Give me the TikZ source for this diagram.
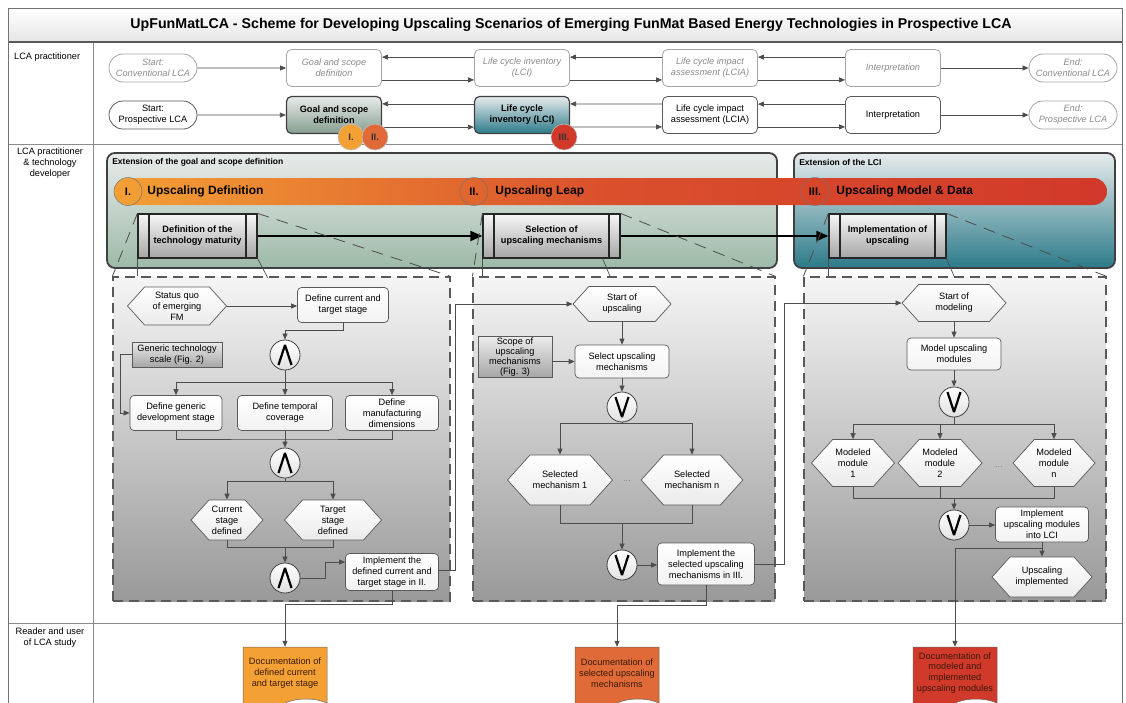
\documentclass[tikz,border=0pt]{standalone}
\usepackage{fontspec}
\setmainfont{Liberation Sans}
\usetikzlibrary{arrows.meta}
\usetikzlibrary{positioning}
\usetikzlibrary{shapes.misc}
\usetikzlibrary{shapes.symbols}

\definecolor{lineGrey}{HTML}{4D4D4D}
\definecolor{borderGrey}{HTML}{5A5A5A}
\definecolor{oldGrey}{HTML}{A5A5A5}
\definecolor{oldText}{HTML}{8C8C8C}
\definecolor{goalTop}{HTML}{E8EBEA}
\definecolor{goalBot}{HTML}{9DBAA8}
\definecolor{lciTop}{HTML}{E8ECED}
\definecolor{lciBot}{HTML}{2C7A89}
\definecolor{upOrange}{HTML}{F3A035}
\definecolor{upRust}{HTML}{E06B38}
\definecolor{upMid}{HTML}{DA4F2C}
\definecolor{upRed}{HTML}{D1392A}
\definecolor{docText}{HTML}{3A1A0C}

\newcommand{\boxfont}{\fontsize{9.2}{10.9}\selectfont}

\tikzset{
	>={Triangle[length=6pt,width=5pt]},
	conn/.style={draw=lineGrey, line width=0.75pt},
	arr/.style={conn, ->},
	bigarr/.style={draw=black, line width=2pt, -{Triangle[length=12pt,width=10pt]}},
	lcabox/.style={
		rectangle,
		rounded corners=5pt,
		draw=borderGrey, line width=0.8pt,
		fill=white,
		minimum width=95pt,
		minimum height=37pt,
		align=center,
		font=\boxfont,
		inner sep=2pt},
	oldbox/.style={lcabox, draw=oldGrey, text=oldText, font=\boxfont\itshape},
	terminal/.style={
		rounded rectangle,
		draw=borderGrey, line width=0.8pt,
		fill=white,
		minimum width=90pt,
		minimum height=28pt,
		align=center,
		font=\boxfont,
		inner sep=1pt},
	oldterminal/.style={terminal, draw=oldGrey, text=oldText, font=\boxfont\itshape},
	badge/.style={circle, minimum size=26pt, inner sep=0pt, draw=white!75!black,
		line width=0.6pt, font=\fontsize{9.5}{11}\selectfont\bfseries, text=black!80},
	extbox/.style={rectangle, rounded corners=8pt, draw=black!75, line width=1.8pt},
	exttitle/.style={anchor=west, inner sep=0pt, font=\fontsize{8.5}{10}\selectfont\bfseries},
	bandlabel/.style={circle, minimum size=28pt, inner sep=0pt, draw=black!55,
		line width=0.5pt, font=\fontsize{11}{13}\selectfont\bfseries},
	bandtext/.style={anchor=west, inner sep=0pt, font=\fontsize{12}{14}\selectfont\bfseries},
	subproc/.style={
		rectangle,
		draw=black!85, line width=1.2pt,
		top color=black!3, bottom color=black!35,
		minimum height=44pt,
		align=center,
		font=\boxfont\bfseries,
		inner sep=2pt,
		path picture={\draw[black!85, line width=1.2pt]
			([xshift=11pt]path picture bounding box.north west) -- ([xshift=11pt]path picture bounding box.south west)
			([xshift=-11pt]path picture bounding box.north east) -- ([xshift=-11pt]path picture bounding box.south east);}},
	expframe/.style={rectangle, draw=black!65, line width=1.2pt, dash pattern=on 10pt off 6pt,
		top color=black!4, bottom color=black!40},
	zoomline/.style={draw=black!70, line width=0.8pt, dash pattern=on 12pt off 8pt},
	zoomstub/.style={draw=black!70, line width=0.7pt},
	process/.style={
		rectangle,
		rounded corners=4pt,
		draw=borderGrey, line width=0.7pt,
		top color=white, bottom color=black!5,
		align=center,
		font=\boxfont,
		inner sep=1pt},
	hexa/.style={
		signal, signal to=west and east, signal pointer angle=96,
		draw=borderGrey, line width=0.7pt,
		top color=white, bottom color=black!8,
		align=center,
		font=\boxfont,
		inner sep=1pt},
	refbox/.style={rectangle, draw=borderGrey, line width=0.7pt,
		top color=black!8, bottom color=black!35, align=center, font=\boxfont, inner sep=1pt},
	gate/.style={circle, minimum size=30pt, inner sep=0pt, draw=black!75, line width=0.8pt,
		top color=white, bottom color=black!12},
	andgate/.style={gate, path picture={\draw[black, line width=2.2pt, line join=bevel]
			([shift={(-6.5pt,-10pt)}]path picture bounding box.center) -- ([shift={(0pt,10pt)}]path picture bounding box.center)
			-- ([shift={(6.5pt,-10pt)}]path picture bounding box.center);}},
	orgate/.style={gate, path picture={\draw[black, line width=2.2pt, line join=bevel]
			([shift={(-6.5pt,10pt)}]path picture bounding box.center) -- ([shift={(0pt,-10pt)}]path picture bounding box.center)
			-- ([shift={(6.5pt,10pt)}]path picture bounding box.center);}},
	dotsnode/.style={font=\boxfont, text=black!50},
	docnode/.style={
		tape, tape bend top=none, tape bend bottom=in and out, tape bend height=8pt,
		draw=black!60, line width=0.5pt,
		minimum width=84pt,
		minimum height=60pt,
		align=center,
		font=\boxfont,
		text=docText},
	lanelabel/.style={align=center, font=\boxfont, inner sep=0pt},
}

\begin{document}
\begin{tikzpicture}[x=1pt, y=-1pt, font=\boxfont]
	\useasboundingbox (0,0) rectangle (1126,702);
	\clip (0,0) rectangle (1126,702);
	\fill[white] (0,0) rectangle (1126,702);
	
	% frame, title and lanes
	\path[top color=white, bottom color=black!10] (8,8) rectangle (1122,42);
	\node[font=\fontsize{14.2}{16}\selectfont\bfseries] (title) at (571,25)
		{UpFunMatLCA - Scheme for Developing Upscaling Scenarios of Emerging FunMat Based Energy Technologies in Prospective LCA};
	\draw[black!45, line width=0.8pt] (8,144) -- (1122,144);
	\draw[black!45, line width=0.8pt] (8,623) -- (1122,623);
	\draw[black!45, line width=0.8pt] (93,42) -- (93,712);
	\draw[black!65, line width=1.5pt] (8,42) -- (1122,42);
	\draw[black!55, line width=1pt] (8,8) rectangle (1122,712);
	
	\node[lanelabel, anchor=west] (laneOne) at (14,57) {LCA practitioner};
	\node[lanelabel, anchor=north] (laneTwo) at (50,148) {LCA practitioner\\\& technology\\developer};
	\node[lanelabel, anchor=north] (laneThree) at (50,628) {Reader and user\\of LCA study};
	
	% conventional and prospective LCA
	\node[oldterminal] (startConv) at (153,68) {Start:\\Conventional LCA};
	\node[oldbox] (goalConv) at (334,68) {Goal and scope\\definition};
	\node[oldbox] (lciConv) at (522,68) {Life cycle inventory\\(LCI)};
	\node[oldbox] (lciaConv) at (710,68) {Life cycle impact\\assessment (LCIA)};
	\node[oldbox] (interConv) at (893,68) {Interpretation};
	\node[oldterminal] (endConv) at (1073,68) {End:\\Conventional LCA};
	
	\node[terminal] (startProsp) at (153,115) {Start:\\Prospective LCA};
	\node[lcabox, top color=goalTop, bottom color=goalBot!85!black, draw=black!75, line width=1.2pt,
		font=\boxfont\bfseries] (goalProsp) at (334,115) {Goal and scope\\definition};
	\node[lcabox, top color=lciTop, bottom color=lciBot, draw=black!75, line width=1.2pt,
		font=\boxfont\bfseries] (lciProsp) at (522,115) {Life cycle\\inventory (LCI)};
	\node[lcabox] (lciaProsp) at (710,115) {Life cycle impact\\assessment (LCIA)};
	\node[lcabox] (interProsp) at (893,115) {Interpretation};
	\node[oldterminal] (endProsp) at (1073,115) {End:\\Prospective LCA};
	
	\draw[arr] (startConv) -- (goalConv);
	\draw[arr] ([yshift=-8pt]lciConv.north west) -- ([yshift=-8pt]goalConv.north east);
	\draw[arr] ([yshift=7pt]goalConv.south east) -- ([yshift=7pt]lciConv.south west);
	\draw[arr] ([yshift=-8pt]lciaConv.north west) -- ([yshift=-8pt]lciConv.north east);
	\draw[arr] ([yshift=7pt]lciConv.south east) -- ([yshift=7pt]lciaConv.south west);
	\draw[arr] ([yshift=-8pt]interConv.north west) -- ([yshift=-8pt]lciaConv.north east);
	\draw[arr] ([yshift=7pt]lciaConv.south east) -- ([yshift=7pt]interConv.south west);
	\draw[arr] (interConv) -- (endConv);
	
	\draw[arr] (startProsp) -- (goalProsp);
	\draw[arr] ([yshift=-8pt]lciProsp.north west) -- ([yshift=-8pt]goalProsp.north east);
	\draw[arr] ([yshift=7pt]goalProsp.south east) -- ([yshift=7pt]lciProsp.south west);
	\draw[arr] ([yshift=-8pt]lciaProsp.north west) -- ([yshift=-8pt]lciProsp.north east);
	\draw[arr] ([yshift=7pt]lciProsp.south east) -- ([yshift=7pt]lciaProsp.south west);
	\draw[arr] ([yshift=-8pt]interProsp.north west) -- ([yshift=-8pt]lciaProsp.north east);
	\draw[arr] ([yshift=7pt]lciaProsp.south east) -- ([yshift=7pt]interProsp.south west);
	\draw[arr] (interProsp) -- (endProsp);
	
	\node[badge, fill=upOrange] (badgeOne) at (351,137) {I.};
	\node[badge, fill=upRust] (badgeTwo) at (375,137) {II.};
	\node[badge, fill=upRed] (badgeThree) at (564,137) {III.};
	
	% extensions
	\node[extbox, top color=goalTop, bottom color=goalBot, minimum width=670pt, minimum height=115pt] (extGoal) at (442,210.5) {};
	\node[extbox, top color=lciTop, bottom color=lciBot, minimum width=321pt, minimum height=115pt] (extLCI) at (954.5,210.5) {};
	\node[exttitle] (extGoalTitle) at ([xshift=6pt,yshift=-10pt]extGoal.north west) {Extension of the goal and scope definition};
	\node[exttitle] (extLCITitle) at ([xshift=6pt,yshift=-10pt]extLCI.north west) {Extension of the LCI};
	
	\node[expframe, minimum width=337pt, minimum height=324pt] (frameA) at (281.5,439) {};
	\node[expframe, minimum width=302pt, minimum height=324pt] (frameB) at (624,439) {};
	\node[expframe, minimum width=302pt, minimum height=324pt] (frameC) at (955,439) {};
	
	\node[rectangle, rounded corners=13.5pt, minimum width=993pt, minimum height=27pt, inner sep=0pt,
		left color=upOrange, right color=upRed, middle color=upMid] (band) at (610.5,191.5) {};
	\node[bandlabel] (bandOne) at (128,191.5) {I.};
	\node[bandtext, right=5pt of bandOne] (bandOneText) {Upscaling Definition};
	\node[bandlabel] (bandTwo) at (474,191.5) {II.};
	\node[bandtext, right=7pt of bandTwo] (bandTwoText) {Upscaling Leap};
	\node[bandlabel] (bandThree) at (815,191.5) {III.};
	\node[bandtext, right=7pt of bandThree] (bandThreeText) {Upscaling Model \& Data};
	
	\node[subproc, minimum width=119pt] (defMat) at (197.5,236) {Definition of the\\technology maturity};
	\node[subproc, minimum width=137pt] (selUp) at (551.5,236) {Selection of\\upscaling mechanisms};
	\node[subproc, minimum width=117pt] (implUp) at (887.5,236) {Implementation of\\upscaling};
	\draw[bigarr] (defMat) -- (selUp);
	\draw[bigarr] (selUp) -- (implUp);
	
	\draw[zoomline] (defMat.north west) -- (frameA.north west);
	\draw[zoomline] (defMat.north east) -- (frameA.north east);
	\draw[zoomstub] (defMat.south west) -- (defMat.south west |- frameA.north);
	\draw[zoomstub] (defMat.south east) -- ++(10,19);
	\draw[zoomline] (selUp.north west) -- (frameB.north west);
	\draw[zoomline] (selUp.north east) -- (frameB.north east);
	\draw[zoomstub] (selUp.south west) -- (selUp.south west |- frameB.north);
	\draw[zoomstub] ([xshift=-18pt]selUp.south east) -- ++(8,19);
	\draw[zoomline] (implUp.north west) -- (frameC.north west);
	\draw[zoomline] (implUp.north east) -- (frameC.north east);
	\draw[zoomstub] (implUp.south west) -- (implUp.south west |- frameC.north);
	\draw[zoomstub] (implUp.south east) -- ++(8,19);
	
	% I. upscaling definition
	\node[hexa, minimum width=99pt, minimum height=38pt] (statusQuo) at (177,306) {Status quo\\of emerging\\FM};
	\node[process, minimum width=91pt, minimum height=35pt] (defCurrent) at (343,305) {Define current and\\target stage};
	\node[andgate] (gateAndOne) at (285,355) {};
	\node[refbox, minimum width=90pt, minimum height=25pt] (techScale) at (177,354.5) {Generic technology\\scale (Fig. 2)};
	\node[process, minimum width=92pt, minimum height=35pt] (defGeneric) at (176,413) {Define generic\\development stage};
	\node[process, minimum width=95pt, minimum height=35pt] (defTemporal) at (285,413) {Define temporal\\coverage};
	\node[process, minimum width=93pt, minimum height=35pt] (defManuf) at (392,413) {Define\\manufacturing\\dimensions};
	\node[andgate] (gateAndTwo) at (285,463) {};
	\node[hexa, minimum width=72pt, minimum height=40pt] (currentDef) at (227,520) {Current\\stage\\defined};
	\node[hexa, minimum width=97pt, minimum height=40pt] (targetDef) at (333,520) {Target\\stage\\defined};
	\node[andgate] (gateAndThree) at (285,578) {};
	\node[process, minimum width=93pt, minimum height=37pt] (implDefined) at (392,572) {Implement the\\defined current and\\target stage in II.};
	
	\draw[arr] (statusQuo.east) -- (statusQuo.east -| defCurrent.west);
	\draw[arr] (defCurrent.south) -- ++(0,8) -| (gateAndOne.north);
	\draw[arr] (techScale.west) -- ++(-11,0) |- (defGeneric.west);
	\draw[conn] (gateAndOne.south) -- ++(0,12) coordinate (splitAndOne);
	\draw[arr] (splitAndOne) -| (defGeneric.north);
	\draw[arr] (splitAndOne) -- (defTemporal.north);
	\draw[arr] (splitAndOne) -| (defManuf.north);
	\coordinate (joinAndTwo) at (285,439);
	\draw[conn] (defGeneric.south) |- (joinAndTwo) -| (defManuf.south);
	\draw[conn] (defTemporal.south) -- (joinAndTwo);
	\draw[arr] (joinAndTwo) -- (gateAndTwo.north);
	\draw[conn] (gateAndTwo.south) -- ++(0,3) coordinate (splitAndTwo);
	\draw[arr] (splitAndTwo) -| (currentDef.north);
	\draw[arr] (splitAndTwo) -| (targetDef.north);
	\coordinate (joinAndThree) at (285,547);
	\draw[conn] (currentDef.south) |- (joinAndThree) -| (targetDef.south);
	\draw[arr] (joinAndThree) -- (gateAndThree.north);
	\draw[arr] (gateAndThree.east) -- ++(25,0) |- ([yshift=10pt]implDefined.west);
	
	% II. upscaling leap
	\node[hexa, minimum width=98pt, minimum height=35pt] (startUpsc) at (622,304) {Start of\\upscaling};
	\node[refbox, minimum width=74pt, minimum height=40pt, font=\fontsize{9.2}{10}\selectfont] (scopeMech) at (515,357) {Scope of\\upscaling\\mechanisms\\(Fig. 3)};
	\node[process, minimum width=94pt, minimum height=33pt] (selectMech) at (622,361.5) {Select upscaling\\mechanisms};
	\node[orgate] (gateOrOne) at (622,407) {};
	\node[hexa, minimum width=105pt, minimum height=50pt] (selMechOne) at (560,480) {Selected\\mechanism 1};
	\node[hexa, minimum width=101pt, minimum height=50pt] (selMechN) at (692,480) {Selected\\mechanism n};
	\node[dotsnode] (dotsMech) at (627,481) {...};
	\node[orgate] (gateOrTwo) at (622,565) {};
	\node[process, minimum width=97pt, minimum height=42pt] (implSelected) at (706,564) {Implement the\\selected upscaling\\mechanisms in III.};
	
	\draw[arr] ([yshift=2pt]implDefined.east) -- ++(17,0) |- (startUpsc.west);
	\draw[arr] (startUpsc.south) -- (selectMech.north);
	\draw[arr] (scopeMech.east |- selectMech.west) -- (selectMech.west);
	\draw[arr] (selectMech.south) -- (gateOrOne.north);
	\draw[conn] (gateOrOne.south) -- ++(0,1) coordinate (splitOrOne);
	\draw[arr] (splitOrOne) -| (selMechOne.north);
	\draw[arr] (splitOrOne) -| (selMechN.north);
	\coordinate (joinOrTwo) at (622,523);
	\draw[conn] (selMechOne.south) |- (joinOrTwo) -| (selMechN.south);
	\draw[arr] (joinOrTwo) -- (gateOrTwo.north);
	\draw[arr] (gateOrTwo.east) -- (gateOrTwo.east -| implSelected.west);
	
	% III. upscaling model & data
	\node[hexa, minimum width=104pt, minimum height=37pt] (startModel) at (954,303) {Start of\\modeling};
	\node[process, minimum width=94pt, minimum height=32pt] (modelMod) at (954,354) {Model upscaling\\modules};
	\node[orgate] (gateOrThree) at (954,402) {};
	\node[hexa, minimum width=83pt, minimum height=47pt] (modOne) at (853,463) {Modeled\\module\\1};
	\node[hexa, minimum width=84pt, minimum height=47pt] (modTwo) at (940,463) {Modeled\\module\\2};
	\node[hexa, minimum width=82pt, minimum height=47pt] (modN) at (1054,463) {Modeled\\module\\n};
	\node[dotsnode] (dotsMod) at (999,467) {...};
	\node[orgate] (gateOrFour) at (954,525) {};
	\node[process, minimum width=93pt, minimum height=35pt] (implModules) at (1042,524.5) {Implement\\upscaling modules\\into LCI};
	\node[hexa, minimum width=100pt, minimum height=40pt] (upscImpl) at (1042,577) {Upscaling\\implemented};
	
	\draw[arr] (implSelected.east) -- ++(30,0) |- (startModel.west);
	\draw[arr] (startModel.south) -- (modelMod.north);
	\draw[arr] (modelMod.south) -- (gateOrThree.north);
	\draw[conn] (gateOrThree.south) -- ++(0,7) coordinate (splitOrThree);
	\draw[arr] (splitOrThree) -| (modOne.north);
	\draw[arr] (splitOrThree) -| (modTwo.north);
	\draw[arr] (splitOrThree) -| (modN.north);
	\coordinate (joinOrFour) at (954,498);
	\draw[conn] (modOne.south) |- (joinOrFour) -| (modN.south);
	\draw[conn] (modTwo.south) -- (modTwo.south |- joinOrFour);
	\draw[arr] (joinOrFour) -- (gateOrFour.north);
	\draw[arr] (gateOrFour.east) -- (gateOrFour.east -| implModules.west);
	\draw[arr] (implModules.south) -- (upscImpl.north);
	
	% documentation
	\node[docnode, fill=upOrange] (docDefined) at (285,673) {Documentation of\\defined current\\and target stage};
	\node[docnode, fill=upRust] (docSelected) at (617,673) {Documentation of\\selected upscaling\\mechanisms};
	\node[docnode, fill=upRed] (docModeled) at (955,673) {Documentation of\\modeled and\\implemented\\upscaling modules};
	
	\draw[arr] (implDefined.south) -- ++(0,14) -| (docDefined.north);
	\draw[arr] (implSelected.south) -- ++(0,20) -| (docSelected.north);
	\draw[arr] ([yshift=-6pt]implModules.south) -| (docModeled.north);
	
\end{tikzpicture}
\end{document}
